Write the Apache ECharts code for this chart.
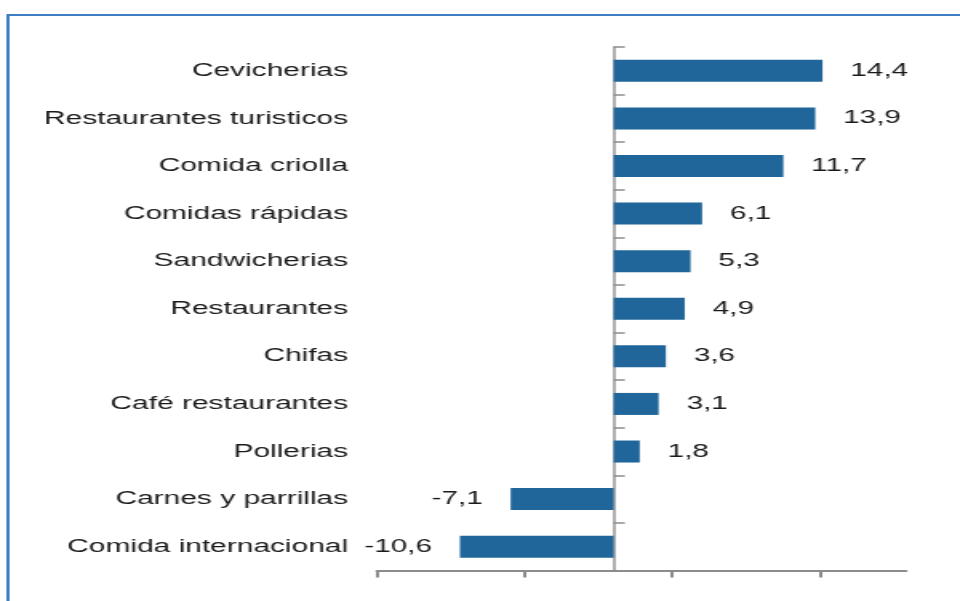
<!DOCTYPE html>
<html>
<head>
<meta charset="utf-8">
<title>Restaurantes - variación</title>
<script src="https://cdn.jsdelivr.net/npm/echarts@6/dist/echarts.min.js"></script>
<style>
  html, body { margin: 0; padding: 0; background: #fff; overflow: hidden; }
  /* el gráfico original está estirado en horizontal */
  #main { width: 600px; height: 601px; transform: scaleX(1.6); transform-origin: 0 0; }
</style>
</head>
<body>
<div id="main"></div>
<script>
// categorías (de arriba hacia abajo)
var categorias = ['Cevicherias', 'Restaurantes turisticos', 'Comida criolla', 'Comidas rápidas',
  'Sandwicherias', 'Restaurantes', 'Chifas', 'Café restaurantes', 'Pollerias',
  'Carnes y parrillas', 'Comida internacional'];
// variación (%)
var valores = [14.4, 13.9, 11.7, 6.1, 5.3, 4.9, 3.6, 3.1, 1.8, -7.1, -10.6];
// marcas del eje inferior (sin etiquetas)
var marcasEje = [0, 1, 2, 3];

var fuente = 'Liberation Sans, Arial, sans-serif';

var chart = echarts.init(document.getElementById('main'));

//datos con la etiqueta a la izquierda si el valor es negativo
var datos = valores.map(function(v){
  return { value: v, label: { position: v < 0 ? 'left' : 'right' } };
});

chart.setOption({
  animation: false,
  backgroundColor: '#fff',
  graphic: [{
    type: 'rect',
    silent: true,
    shape: { x: 5, y: 15, width: 1000, height: 1000 },
    style: { fill: 'none', stroke: '#3d7fc2', lineWidth: 2 }
  }],
  grid: { left: 235.6, right: 33.7, top: 47, bottom: 30.5, containLabel: false },
  xAxis: [
    {
      type: 'value',
      min: -16.32,
      max: 20.16,
      axisLine: { show: false },
      axisTick: { show: false },
      axisLabel: { show: false },
      splitLine: { show: false }
    },
    {
      //eje inferior con sus marcas
      type: 'value',
      position: 'bottom',
      min: 0,
      max: 3.586,
      interval: 1,
      axisLine: { show: true, onZero: false, lineStyle: { color: '#8c8c8c', width: 2 } },
      axisTick: { show: true, length: 7, customValues: marcasEje, lineStyle: { color: '#8c8c8c', width: 2 } },
      axisLabel: { show: false },
      splitLine: { show: false }
    }
  ],
  yAxis: [
    {
      type: 'category',
      inverse: true,
      data: categorias,
      axisLine: { show: false, onZero: false },
      axisTick: { show: false },
      axisLabel: {
        margin: 18,
        fontSize: 18.7,
        fontFamily: fuente,
        color: '#1a1a1a'
      }
    },
    {
      //línea vertical en cero
      type: 'category',
      inverse: true,
      data: categorias,
      axisLine: { show: true, onZero: true, onZeroAxisIndex: 0, lineStyle: { color: '#9a9a9a', width: 1.6 } },
      axisTick: { show: true, length: 7, lineStyle: { color: '#8c8c8c', width: 1.5 } },
      axisLabel: { show: false }
    }
  ],
  series: [{
    type: 'bar',
    xAxisIndex: 0,
    yAxisIndex: 0,
    data: datos,
    barWidth: 22,
    itemStyle: { color: '#21669a' },
    label: {
      show: true,
      distance: 17.5,
      fontSize: 18.5,
      fontFamily: fuente,
      color: '#1a1a1a',
      formatter: function(p){
        return p.value.toFixed(1).replace('.', ',');
      }
    }
  }]
});
</script>
</body>
</html>
